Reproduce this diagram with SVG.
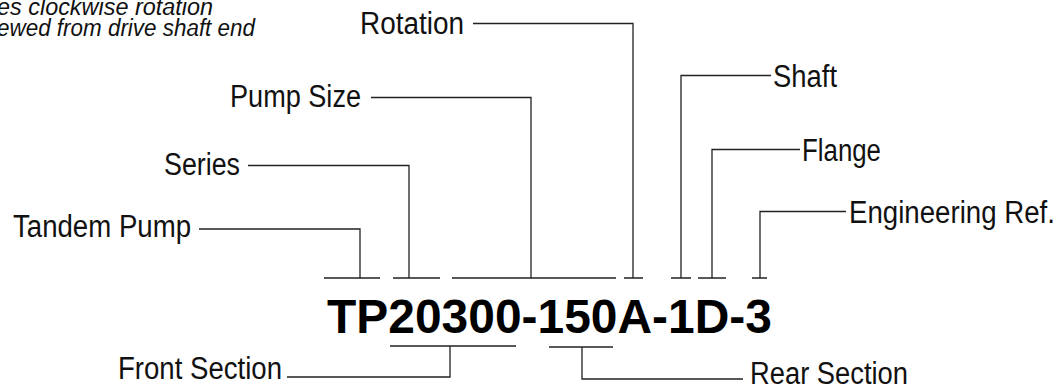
<svg xmlns="http://www.w3.org/2000/svg" width="1060" height="386" viewBox="0 0 1060 386">
<style>
.lbl{font-family:"Liberation Sans",Arial,sans-serif;font-size:31px;fill:#111}
.note{font-family:"Liberation Sans",Arial,sans-serif;font-size:23px;font-style:italic;fill:#111}
.code{font-family:"Liberation Sans",Arial,sans-serif;font-size:47.5px;font-weight:bold;fill:#000}
.ln{fill:none;stroke:#222;stroke-width:1.3}
</style>
<rect width="1060" height="386" fill="#fff"/>
<g id="note">
<text class="note" x="213" y="15" text-anchor="end" textLength="216" lengthAdjust="spacingAndGlyphs">es clockwise rotation</text>
<text class="note" x="255" y="36" text-anchor="end" textLength="258" lengthAdjust="spacingAndGlyphs">ewed from drive shaft end</text>
</g>
<g id="code"><text class="code" x="327" y="333" textLength="445" lengthAdjust="spacingAndGlyphs">TP20300-150A-1D-3</text></g>
<g id="tandem"><text class="lbl" x="13" y="237" textLength="178" lengthAdjust="spacingAndGlyphs">Tandem Pump</text></g>
<g id="series"><text class="lbl" x="164" y="175" textLength="76" lengthAdjust="spacingAndGlyphs">Series</text></g>
<g id="pumpsize"><text class="lbl" x="230" y="107" textLength="131" lengthAdjust="spacingAndGlyphs">Pump Size</text></g>
<g id="rotation"><text class="lbl" x="360" y="34" textLength="104" lengthAdjust="spacingAndGlyphs">Rotation</text></g>
<g id="shaft"><text class="lbl" x="773" y="87" textLength="64" lengthAdjust="spacingAndGlyphs">Shaft</text></g>
<g id="flange"><text class="lbl" x="802" y="161" textLength="79" lengthAdjust="spacingAndGlyphs">Flange</text></g>
<g id="engref"><text class="lbl" x="849" y="223" textLength="206" lengthAdjust="spacingAndGlyphs">Engineering Ref.</text></g>
<g id="front"><text class="lbl" x="118" y="379" textLength="164" lengthAdjust="spacingAndGlyphs">Front Section</text></g>
<g id="rear"><text class="lbl" x="750" y="384" textLength="158" lengthAdjust="spacingAndGlyphs">Rear Section</text></g>
<g id="connectors" class="ln">
<path d="M324 278H380M393 278H440M452 278H616M624 278H643M671 278H691M698 278H726M752 278H767"/>
<path d="M199 229H360V278"/>
<path d="M248 165.5H409V278"/>
<path d="M371 97.5H531V278"/>
<path d="M473 23.5H633V278"/>
<path d="M681 278V75.5H771"/>
<path d="M712 278V149.5H800"/>
<path d="M760 278V211.5H846"/>
<path d="M390 346H516M450 346V377H287"/>
<path d="M549 347H613M582 347V379H743"/>
</g>
</svg>
